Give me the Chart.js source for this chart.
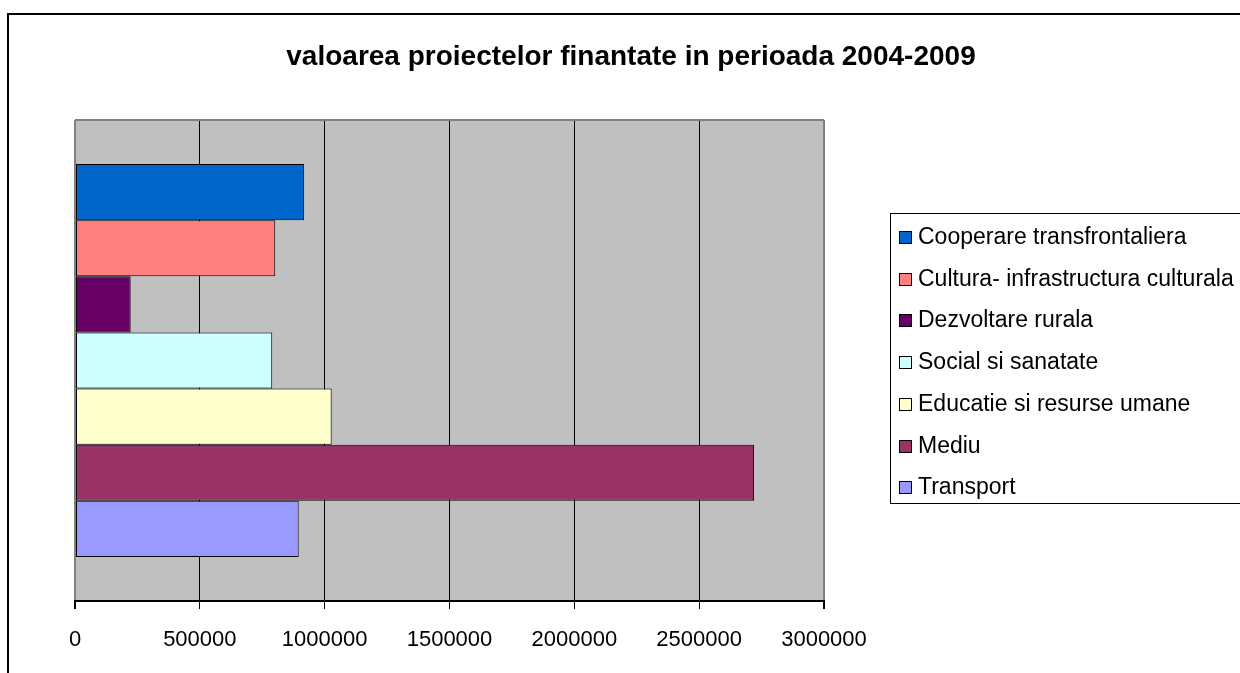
<!DOCTYPE html>
<html>
<head>
<meta charset="utf-8">
<script src="https://cdn.jsdelivr.net/npm/chart.js@4.4.1/dist/chart.umd.min.js"></script>
<style>
html,body{margin:0;padding:0;background:#fff;overflow:hidden}
#wrap{position:relative;width:1240px;height:673px}
</style>
</head>
<body>
<div id="wrap"><canvas id="c" width="1240" height="673"></canvas></div>
<script>
const categories = [''];
const seriesLabels = [
  'Cooperare transfrontaliera',
  'Cultura- infrastructura culturala',
  'Dezvoltare rurala',
  'Social si sanatate',
  'Educatie si resurse umane',
  'Mediu',
  'Transport'
];
const seriesValues = [918000, 802000, 223000, 790000, 1028000, 2720000, 896000];
const seriesColors = ['#0066CC', '#FF8080', '#660066', '#CCFFFF', '#FFFFCC', '#993366', '#9999FF'];
const xTicks = [0, 500000, 1000000, 1500000, 2000000, 2500000, 3000000];
const titleText = 'valoarea proiectelor finantate in perioada 2004-2009';

const FONT = '"Liberation Sans", Arial, sans-serif';

const datasets = seriesLabels.map((lab, i) => ({
  label: lab,
  data: [seriesValues[i]],
  backgroundColor: seriesColors[i],
  borderColor: '#000000',
  borderWidth: 1,
  borderSkipped: false,
  categoryPercentage: 0.817,
  barPercentage: 1.0
}));

const framePlugin = {
  id: 'frame',
  beforeDraw(chart) {
    const ctx = chart.ctx, a = chart.chartArea;
    ctx.save();
    ctx.fillStyle = '#ffffff';
    ctx.fillRect(0, 0, chart.width, chart.height);
    // outer chart frame
    ctx.strokeStyle = '#000000';
    ctx.lineWidth = 2;
    ctx.beginPath();
    ctx.moveTo(8, chart.height + 5);
    ctx.lineTo(8, 14);
    ctx.lineTo(chart.width + 5, 14);
    ctx.stroke();
    // plot area background
    ctx.fillStyle = '#C0C0C0';
    ctx.fillRect(a.left, a.top, a.right - a.left, a.bottom - a.top);
    ctx.restore();
  },
  beforeDatasetsDraw(chart) {
    const ctx = chart.ctx, a = chart.chartArea;
    ctx.save();
    ctx.strokeStyle = '#808080';
    ctx.lineWidth = 2;
    ctx.beginPath();
    ctx.moveTo(a.left, a.top);
    ctx.lineTo(a.right, a.top);
    ctx.stroke();
    ctx.restore();
  },
  afterDraw(chart) {
    const ctx = chart.ctx;
    ctx.save();
    ctx.strokeStyle = '#000000';
    ctx.lineWidth = 1;
    ctx.strokeRect(890.5, 213.5, 400, 290);
    ctx.font = '23px ' + FONT;
    ctx.textBaseline = 'middle';
    ctx.textAlign = 'left';
    chart.data.datasets.forEach((ds, i) => {
      const y = Math.round(237 + i * 41.7);
      ctx.fillStyle = ds.backgroundColor;
      ctx.fillRect(899, y - 6, 13, 13);
      ctx.strokeStyle = '#000000';
      ctx.strokeRect(899.5, y - 5.5, 12, 12);
      ctx.fillStyle = '#000000';
      ctx.fillText(ds.label, 918, y + 1);
    });
    ctx.restore();
  }
};

new Chart(document.getElementById('c'), {
  type: 'bar',
  data: { labels: categories, datasets: datasets },
  options: {
    indexAxis: 'y',
    responsive: false,
    animation: false,
    devicePixelRatio: 1,
    layout: { padding: { left: 22, right: 0, top: 0, bottom: 0 } },
    plugins: {
      legend: { display: false },
      tooltip: { enabled: false },
      title: {
        display: true,
        text: titleText,
        color: '#000000',
        font: { family: FONT, size: 28, weight: 'bold' },
        padding: { top: 40.2, bottom: 46.2 }
      }
    },
    scales: {
      x: {
        type: 'linear',
        position: 'bottom',
        min: 0,
        max: 3000000,
        afterBuildTicks: (s) => { s.ticks = xTicks.map(v => ({ value: v })); },
        afterFit: (s) => { s.height = 72; },
        ticks: {
          color: '#000000',
          font: { family: FONT, size: 22 },
          padding: 18,
          maxRotation: 0,
          callback: (v) => String(v)
        },
        grid: {
          color: (c) => (c.index === 0 || c.index === xTicks.length - 1) ? '#808080' : '#000000',
          lineWidth: (c) => (c.index === 0 || c.index === xTicks.length - 1) ? 2 : 1,
          tickColor: '#000000',
          tickLength: 8,
          drawOnChartArea: true
        },
        border: { display: true, color: '#000000', width: 2 }
      },
      y: {
        type: 'category',
        position: 'left',
        ticks: { display: false },
        grid: { display: false },
        border: { display: false },
        afterFit: (s) => { s.width = 53; }
      },
      y2: {
        type: 'category',
        axis: 'y',
        position: 'right',
        ticks: { display: false },
        grid: { display: false },
        border: { display: false },
        afterFit: (s) => { s.width = 416; }
      }
    }
  },
  plugins: [framePlugin]
});
</script>
</body>
</html>
